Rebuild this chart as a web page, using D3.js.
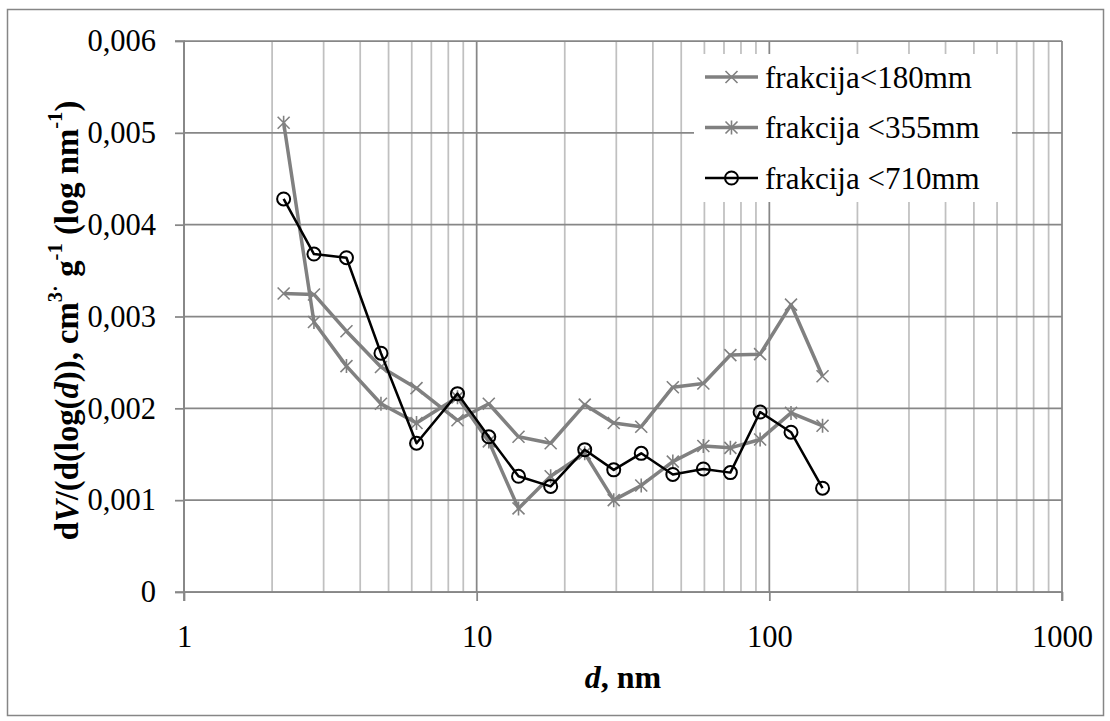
<!DOCTYPE html>
<html><head><meta charset="utf-8">
<script src="https://cdn.jsdelivr.net/npm/d3@7"></script>
<style>
html,body{margin:0;padding:0;background:#fff;}
svg text{font-family:"Liberation Serif","Times New Roman",serif;fill:#000;}
</style></head>
<body>
<svg id="chart" width="1110" height="721"></svg>
<script>
// ---- data ----
const diameters = [2.19, 2.78, 3.59, 4.71, 6.23, 8.6, 11.0, 13.9, 17.9, 23.4, 29.4, 36.5, 46.8, 59.5, 73.6, 93, 118.6, 152];
const frac180 = [0.00325, 0.00324, 0.00284, 0.00245, 0.00222, 0.00187, 0.00205, 0.00169, 0.00162, 0.00204, 0.00184, 0.00180, 0.00223, 0.00227, 0.00258, 0.00259, 0.00313, 0.00235];
const frac355 = [0.00511, 0.00294, 0.00246, 0.00205, 0.00184, 0.00212, 0.00164, 0.00091, 0.00126, 0.00151, 0.00100, 0.00116, 0.00142, 0.00159, 0.00157, 0.00166, 0.00195, 0.00181];
const frac710 = [0.00428, 0.00368, 0.00364, 0.00260, 0.00162, 0.00216, 0.00169, 0.00126, 0.00115, 0.00155, 0.00133, 0.00151, 0.00128, 0.00134, 0.00130, 0.00196, 0.00174, 0.00113];
const seriesNames = ["frakcija<180mm", "frakcija <355mm", "frakcija <710mm"];
const yTickValues = [0, 0.001, 0.002, 0.003, 0.004, 0.005, 0.006];
const yTickLabels = ["0", "0,001", "0,002", "0,003", "0,004", "0,005", "0,006"];
const xTickValues = [1, 10, 100, 1000];
const xTickLabels = ["1", "10", "100", "1000"];

const svg = d3.select("#chart");
const L = 184, R = 1062, T = 41, B = 592;

// outer border
svg.append("rect").attr("x", 7.5).attr("y", 9.5).attr("width", 1096).attr("height", 706)
  .attr("fill", "#fff").attr("stroke", "#868686").attr("stroke-width", 1.5);

const x = d3.scaleLog().domain([1, 1000]).range([L, R]);
const y = d3.scaleLinear().domain([0, 0.006]).range([B, T]);

// grid
const grid = svg.append("g");
const minorX = [];
for (let e = 0; e < 3; e++) for (let k = 2; k <= 9; k++) minorX.push(k * Math.pow(10, e));
grid.selectAll(".mx").data(minorX).join("line")
  .attr("x1", d => x(d)).attr("x2", d => x(d)).attr("y1", T).attr("y2", B)
  .attr("stroke", "#c0c0c0").attr("stroke-width", 1.75);
grid.selectAll(".Mx").data(xTickValues).join("line")
  .attr("x1", d => x(d)).attr("x2", d => x(d)).attr("y1", T).attr("y2", B)
  .attr("stroke", "#878787").attr("stroke-width", 1.75);
grid.selectAll(".hy").data(yTickValues).join("line")
  .attr("x1", L).attr("x2", R).attr("y1", d => y(d)).attr("y2", d => y(d))
  .attr("stroke", "#878787").attr("stroke-width", 1.75);

// axes
const yAxis = d3.axisLeft(y).tickValues(yTickValues).tickSize(9).tickPadding(19)
  .tickFormat((d, i) => yTickLabels[i]);
const gy = svg.append("g").attr("transform", `translate(${L},0)`).call(yAxis);
const xAxis = d3.axisBottom(x).tickValues(xTickValues).tickSize(9).tickPadding(24)
  .tickFormat((d, i) => xTickLabels[i]);
const gx = svg.append("g").attr("transform", `translate(0,${B})`).call(xAxis);
[gx, gy].forEach(g => {
  g.selectAll(".domain").attr("stroke", "#878787").attr("stroke-width", 1.75);
  g.selectAll(".tick line").attr("stroke", "#878787").attr("stroke-width", 1.75);
  g.selectAll(".tick text").attr("font-family", "Liberation Serif").attr("font-size", 30.5).attr("fill", "#000");
});
gy.select(".domain").attr("d", `M-9,${T}H0V${B}H-9`);
gx.select(".domain").attr("d", `M${L},9V0H${R}V9`);

// markers
function crossPath(s) { return `M${-s},${-s}L${s},${s}M${s},${-s}L${-s},${s}`; }
function starPath(s) { return crossPath(s) + `M0,${-s - 1}L0,${s + 1}`; }

const series = [
  { name: seriesNames[0], values: frac180, color: "#808080", width: 3.5, marker: "cross" },
  { name: seriesNames[1], values: frac355, color: "#808080", width: 3.5, marker: "star" },
  { name: seriesNames[2], values: frac710, color: "#000000", width: 2.5, marker: "circle" }
];

const line = d3.line().x(d => x(d[0])).y(d => y(d[1]));
function drawMarker(g, type, color) {
  if (type === "circle") {
    g.append("circle").attr("r", 6.5).attr("fill", "none").attr("stroke", color).attr("stroke-width", 2);
  } else {
    g.append("path").attr("d", type === "cross" ? crossPath(6) : starPath(6))
      .attr("fill", "none").attr("stroke", color).attr("stroke-width", 1.6);
  }
}
series.forEach(s => {
  const pts = diameters.map((d, i) => [d, s.values[i]]);
  svg.append("path").datum(pts).attr("d", line).attr("fill", "none")
    .attr("stroke", s.color).attr("stroke-width", s.width).attr("stroke-linejoin", "round");
  pts.forEach(p => {
    const g = svg.append("g").attr("transform", `translate(${x(p[0])},${y(p[1])})`);
    drawMarker(g, s.marker, s.color);
  });
});

// legend
const lg = svg.append("g");
lg.append("rect").attr("x", 694).attr("y", 54).attr("width", 318).attr("height", 148).attr("fill", "#fff");
series.forEach((s, i) => {
  const cy = 77 + i * 50.5;
  lg.append("line").attr("x1", 705).attr("x2", 758).attr("y1", cy).attr("y2", cy)
    .attr("stroke", s.color).attr("stroke-width", s.width);
  const g = lg.append("g").attr("transform", `translate(731.5,${cy})`);
  drawMarker(g, s.marker, s.color);
  lg.append("text").attr("x", 765).attr("y", cy).attr("dy", "0.34em")
    .attr("font-size", 31).text(s.name);
});

// y axis title (sized to span ~440px, centred on the plot)
const yt = svg.append("text").attr("text-anchor", "start").attr("dy", "0.34em")
  .attr("font-size", 30).attr("font-weight", "bold");
yt.append("tspan").text("d");
yt.append("tspan").attr("font-style", "italic").text("V");
yt.append("tspan").text("/(d(log(");
yt.append("tspan").attr("font-style", "italic").text("d");
yt.append("tspan").text(")), cm");
yt.append("tspan").attr("class", "sup").attr("dy", "-0.5em").text("3·");
yt.append("tspan").attr("class", "base").attr("dy", "0.5em").text(" g");
yt.append("tspan").attr("class", "sup").attr("dy", "-0.5em").text("-1");
yt.append("tspan").attr("class", "base").attr("dy", "0.5em").text(" (log nm");
yt.append("tspan").attr("class", "sup").attr("dy", "-0.5em").text("-1");
yt.append("tspan").attr("class", "base").attr("dy", "0.5em").text(")");
yt.selectAll(".sup").attr("font-size", 19);
let len = yt.node().getComputedTextLength();
let fs = Math.max(22, Math.min(34, 30 * 440 / len));
yt.attr("font-size", fs);
yt.selectAll(".sup").attr("font-size", fs * 0.63).attr("dy", `${-0.5 * fs / (fs * 0.63)}em`);
yt.selectAll(".base").attr("dy", "0.5em");
len = yt.node().getComputedTextLength();
yt.attr("transform", `translate(67,${(T + B) / 2 + 4 + len / 2}) rotate(-90)`);

// x axis title
const xt = svg.append("text").attr("x", (L + R) / 2).attr("y", 677).attr("dy", "0.34em")
  .attr("text-anchor", "middle").attr("font-size", 32).attr("font-weight", "bold");
xt.append("tspan").attr("font-style", "italic").text("d");
xt.append("tspan").text(", nm");
</script>
</body></html>
